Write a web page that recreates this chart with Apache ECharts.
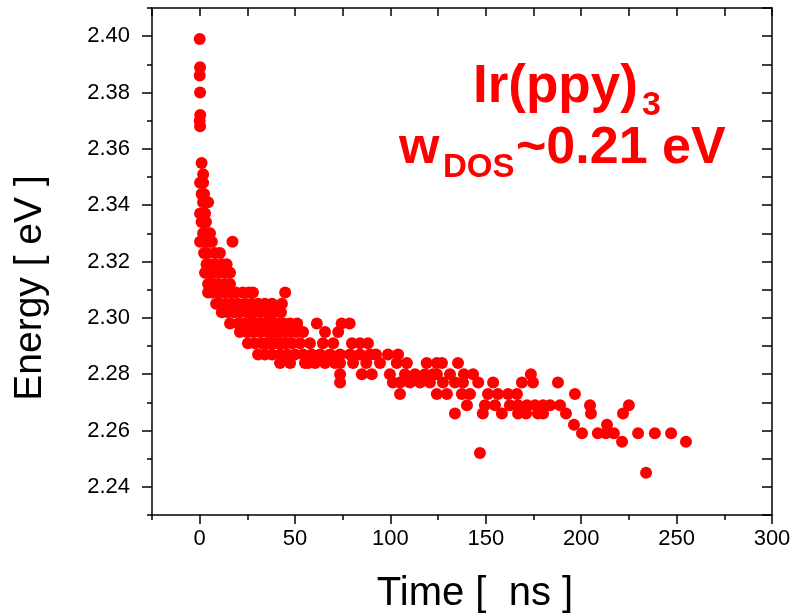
<!DOCTYPE html>
<html>
<head>
<meta charset="utf-8">
<script src="https://cdn.jsdelivr.net/npm/echarts@6/dist/echarts.min.js"></script>
<style>
html,body{margin:0;padding:0;background:#fff;}
#chart{width:796px;height:616px;}
</style>
</head>
<body>
<div id="chart"></div>
<script>
// ---- data (time in ns, energy in eV) ----
var timeNs = [
  0.0, 0.2, 0.0, 0.2, 0.3, 0.0, 0.2,
  1.0, 1.8, 0.2, 1.8, 1.0, 2.3, 1.8, 3.6, 4.4, 0.2, 2.8, 1.0, 1.8, 3.3,
  1.8, 4.5, 5.4, 0.2, 2.8, 5.4, 6.4, 17.2,
  2.3, 3.8, 8.0, 10.6,
  3.6, 5.4, 8.0, 11.6, 14.1,
  2.8, 4.5, 6.4, 9.6, 12.7, 15.9,
  4.4, 5.4, 7.5, 10.1, 13.3, 15.9,
  4.4, 6.4, 9.6, 12.7, 15.9, 19.0, 22.6, 25.8, 27.9, 44.8,
  8.6, 10.6, 13.8, 17.0, 20.1, 23.8, 27.4, 30.6, 34.2, 37.9, 43.1,
  11.6, 14.8, 18.0, 21.1, 24.8, 26.6, 28.4, 31.6, 34.8, 36.9, 39.0, 42.6,
  15.9, 20.1, 23.2, 26.4, 29.5, 32.7, 34.8, 36.9, 38.9, 41.1, 44.0, 47.4, 51.1, 61.4, 74.4, 78.6,
  21.1, 24.8, 27.9, 31.6, 35.8, 38.0, 40.0, 42.5, 44.8, 47.4, 50.5, 54.2, 65.7, 72.6,
  25.3, 29.0, 32.7, 34.8, 36.9, 39.0, 41.1, 43.0, 45.3, 48.4, 52.6, 57.8, 64.6, 70.0, 79.8, 84.0, 88.2,
  30.6, 34.2, 37.9, 42.1, 45.8, 49.9, 54.2, 58.8, 63.1, 68.3, 73.6, 78.8, 84.0, 89.3, 92.4, 98.7, 104.0,
  42.1, 47.4, 55.2, 56.9, 60.5, 65.7, 70.9, 73.6, 80.4, 87.3, 94.5, 103.3, 108.6, 119.0, 124.3, 127.0, 135.4,
  73.6, 85.0, 90.2, 99.7, 107.6, 112.9, 118.1, 122.3, 124.3, 131.2, 138.5, 143.3, 173.6,
  73.6, 101.3, 105.0, 110.2, 115.5, 120.7, 127.5, 133.8, 138.0, 146.0, 153.8, 168.9, 174.7, 187.8,
  105.0, 124.3, 129.6, 137.4, 141.7, 151.1, 156.3, 161.6, 166.3, 196.7,
  140.1, 149.5, 154.8, 162.6, 166.9, 171.6, 175.8, 180.0, 183.7, 188.9, 204.6, 225.0,
  133.8, 148.4, 158.4, 166.9, 171.1, 177.3, 180.0, 192.0, 205.1, 221.9,
  196.2, 213.5,
  200.4, 208.7, 212.9, 217.1, 229.8, 238.6, 247.1,
  221.4, 254.9,
  146.9,
  234.0
];
var energyEv = [
  2.399, 2.389, 2.386, 2.380, 2.372, 2.370, 2.368,
  2.355, 2.351, 2.348, 2.348, 2.344, 2.344, 2.341, 2.341, 2.341, 2.337, 2.337, 2.334, 2.334, 2.334,
  2.330, 2.330, 2.330, 2.327, 2.327, 2.327, 2.327, 2.327,
  2.323, 2.323, 2.323, 2.323,
  2.319, 2.319, 2.319, 2.319, 2.319,
  2.316, 2.316, 2.316, 2.316, 2.316, 2.316,
  2.312, 2.312, 2.312, 2.312, 2.312, 2.312,
  2.309, 2.309, 2.309, 2.309, 2.309, 2.309, 2.309, 2.309, 2.309, 2.309,
  2.305, 2.305, 2.305, 2.305, 2.305, 2.305, 2.305, 2.305, 2.305, 2.305, 2.305,
  2.302, 2.302, 2.302, 2.302, 2.302, 2.302, 2.302, 2.302, 2.302, 2.302, 2.302, 2.302,
  2.298, 2.298, 2.298, 2.298, 2.298, 2.298, 2.298, 2.298, 2.298, 2.298, 2.298, 2.298, 2.298, 2.298, 2.298, 2.298,
  2.295, 2.295, 2.295, 2.295, 2.295, 2.295, 2.295, 2.295, 2.295, 2.295, 2.295, 2.295, 2.295, 2.295,
  2.291, 2.291, 2.291, 2.291, 2.291, 2.291, 2.291, 2.291, 2.291, 2.291, 2.291, 2.291, 2.291, 2.291, 2.291, 2.291, 2.291,
  2.287, 2.287, 2.287, 2.287, 2.287, 2.287, 2.287, 2.287, 2.287, 2.287, 2.287, 2.287, 2.287, 2.287, 2.287, 2.287, 2.287,
  2.284, 2.284, 2.284, 2.284, 2.284, 2.284, 2.284, 2.284, 2.284, 2.284, 2.284, 2.284, 2.284, 2.284, 2.284, 2.284, 2.284,
  2.280, 2.280, 2.280, 2.280, 2.280, 2.280, 2.280, 2.280, 2.280, 2.280, 2.280, 2.280, 2.280,
  2.277, 2.277, 2.277, 2.277, 2.277, 2.277, 2.277, 2.277, 2.277, 2.277, 2.277, 2.277, 2.277, 2.277,
  2.273, 2.273, 2.273, 2.273, 2.273, 2.273, 2.273, 2.273, 2.273, 2.273,
  2.269, 2.269, 2.269, 2.269, 2.269, 2.269, 2.269, 2.269, 2.269, 2.269, 2.269, 2.269,
  2.266, 2.266, 2.266, 2.266, 2.266, 2.266, 2.266, 2.266, 2.266, 2.266,
  2.262, 2.262,
  2.259, 2.259, 2.259, 2.259, 2.259, 2.259, 2.259,
  2.256, 2.256,
  2.252,
  2.245
];
// ---- tick labels ----
var xMajorTicks = [0, 50, 100, 150, 200, 250, 300];
var xMinorTicks = [-25, 25, 75, 125, 175, 225, 275];
var yMajorTicks = [2.24, 2.26, 2.28, 2.30, 2.32, 2.34, 2.36, 2.38, 2.40];
var yMinorTicks = [2.23, 2.25, 2.27, 2.29, 2.31, 2.33, 2.35, 2.37, 2.39, 2.41];

var points = timeNs.map(function (t, i) { return [t, energyEv[i]]; });

var FONT = "'Liberation Sans', Arial, Helvetica, sans-serif";
var RED = '#ff0000';
var lineStyle = { color: '#000', width: 1.5 };

function xAx(pos, vals, len, inside, labels, showLine) {
  return {
    type: 'value', position: pos, min: -25, max: 300, gridIndex: 0,
    axisLine: { show: showLine, onZero: false, lineStyle: lineStyle },
    axisTick: { show: true, customValues: vals, length: len, inside: inside, lineStyle: lineStyle },
    axisLabel: labels ? { show: true, customValues: vals, fontSize: 22, fontFamily: FONT, color: '#000', margin: 13 } : { show: false },
    splitLine: { show: false }
  };
}
function yAx(pos, vals, len, inside, labels, showLine) {
  return {
    type: 'value', position: pos, min: 2.23, max: 2.41, gridIndex: 0,
    axisLine: { show: showLine, onZero: false, lineStyle: lineStyle },
    axisTick: { show: true, customValues: vals, length: len, inside: inside, lineStyle: lineStyle },
    axisLabel: labels ? { show: true, customValues: vals, fontSize: 22, fontFamily: FONT, color: '#000', margin: 22,
      formatter: function (v) { return v.toFixed(2); } } : { show: false },
    splitLine: { show: false }
  };
}

var chart = echarts.init(document.getElementById('chart'), null, { renderer: 'canvas' });
chart.setOption({
  animation: false,
  backgroundColor: '#fff',
  grid: { left: 152, right: 24, top: 8, bottom: 101, containLabel: false },
  xAxis: [
    xAx('bottom', xMajorTicks, 9, false, true, true),
    xAx('bottom', xMinorTicks, 5, false, false, false),
    xAx('top', xMajorTicks, 8, true, false, true),
    xAx('top', xMinorTicks, 8, true, false, false)
  ],
  yAxis: [
    yAx('left', yMajorTicks, 10, false, true, true),
    yAx('left', yMinorTicks, 5, false, false, false),
    yAx('right', yMajorTicks, 10, true, false, true),
    yAx('right', yMinorTicks, 10, true, false, false)
  ],
  series: [{
    type: 'scatter',
    xAxisIndex: 0, yAxisIndex: 0,
    data: points,
    symbol: 'circle',
    symbolSize: 12,
    itemStyle: { color: RED, opacity: 1 },
    emphasis: { disabled: true },
    clip: false
  }],
  graphic: [
    { type: 'text', x: 30, y: 288, rotation: Math.PI / 2,
      style: { text: 'Energy [ eV ]', font: '39px ' + FONT, fill: '#000', align: 'center', verticalAlign: 'middle' } },
    { type: 'text', x: 475, y: 594,
      style: { text: 'Time [  ns ]', font: '40px ' + FONT, fill: '#000', align: 'center', verticalAlign: 'middle' } },
    { type: 'text', x: 473, y: 87,
      style: { text: 'Ir(ppy)', font: 'bold 53px ' + FONT, fill: RED, align: 'left', verticalAlign: 'middle' } },
    { type: 'text', x: 642, y: 106,
      style: { text: '3', font: 'bold 34px ' + FONT, fill: RED, align: 'left', verticalAlign: 'middle' } },
    { type: 'text', x: 399, y: 149,
      style: { text: 'w', font: 'bold 52px ' + FONT, fill: RED, align: 'left', verticalAlign: 'middle' } },
    { type: 'text', x: 443, y: 168,
      style: { text: 'DOS', font: 'bold 33px ' + FONT, fill: RED, align: 'left', verticalAlign: 'middle' } },
    { type: 'text', x: 516, y: 149,
      style: { text: '~0.21 eV', font: 'bold 52px ' + FONT, fill: RED, align: 'left', verticalAlign: 'middle' } }
  ]
});
</script>
</body>
</html>
